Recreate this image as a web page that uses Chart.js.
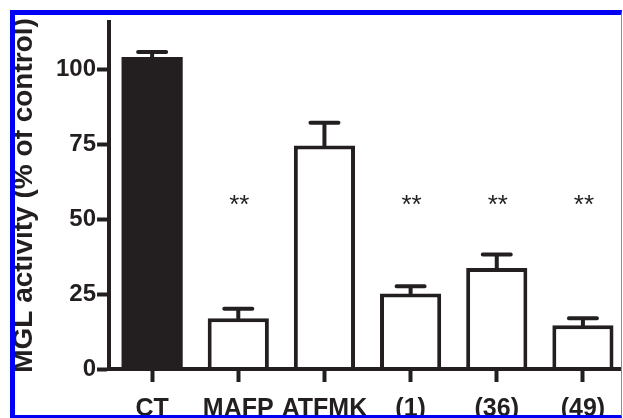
<!DOCTYPE html>
<html>
<head>
<meta charset="utf-8">
<script src="https://cdn.jsdelivr.net/npm/chart.js@4.4.0/dist/chart.umd.min.js"></script>
<style>
  html, body { margin: 0; padding: 0; background: #fff; }
  #wrap { position: absolute; left: 0; top: 0; width: 622px; height: 418px; overflow: hidden; }
  #chart { position: absolute; left: 0; top: 0; }
  #frame {
    position: absolute; left: 10px; top: 10px; width: 612px; height: 408px; box-sizing: border-box;
    border-top: 5px solid #0000f2; border-left: 5px solid #0000f2;
    border-right: 1px solid #7f7ff8; border-bottom: 3px solid #0000f2;
    pointer-events: none;
  }
</style>
</head>
<body>
<div id="wrap"><canvas id="chart" width="640" height="436"></canvas></div>
<div id="frame"></div>
<script>
// values
const categories = ['CT', 'MAFP', 'ATFMK', '(1)', '(36)', '(49)'];
const activity = [104.3, 17.0, 74.7, 25.2, 33.8, 14.6];
const sem = [1.7, 3.1, 7.6, 2.5, 4.5, 2.4];
const significance = ['', '**', '', '**', '**', '**'];
const yTicks = [0, 25, 50, 75, 100];

const ink = '#231f20';
const fills = categories.map((c, i) => i === 0 ? ink : '#ffffff');
const outlines = categories.map((c, i) => i === 0 ? 0 : 4);

// SEM caps + significance stars
const errorBars = {
  id: 'errorBars',
  afterDatasetsDraw(chart) {
    const ctx = chart.ctx;
    const y = chart.scales.y;
    const meta = chart.getDatasetMeta(0);
    ctx.save();
    ctx.strokeStyle = ink;
    ctx.lineWidth = 4;
    ctx.lineCap = 'round';
    meta.data.forEach((bar, i) => {
      const top = y.getPixelForValue(activity[i] + sem[i]);
      ctx.beginPath();
      ctx.moveTo(bar.x, bar.y);
      ctx.lineTo(bar.x, top);
      ctx.moveTo(bar.x - 14, top);
      ctx.lineTo(bar.x + 14, top);
      ctx.stroke();
    });
    ctx.fillStyle = ink;
    ctx.font = '26px "Liberation Sans"';
    ctx.textAlign = 'center';
    ctx.textBaseline = 'middle';
    meta.data.forEach((bar, i) => {
      if (significance[i]) ctx.fillText(significance[i], bar.x + 1, y.getPixelForValue(54.7));
    });
    ctx.restore();
  }
};

new Chart(document.getElementById('chart'), {
  type: 'bar',
  data: {
    labels: categories,
    datasets: [{
      data: activity,
      backgroundColor: fills,
      borderColor: ink,
      borderWidth: outlines,
      borderSkipped: 'start',
      barPercentage: 0.71,
      categoryPercentage: 1
    }]
  },
  options: {
    responsive: false,
    animation: false,
    layout: { padding: { left: 7.5, top: 22, right: 14, bottom: 0 } },
    plugins: { legend: { display: false }, tooltip: { enabled: false } },
    scales: {
      x: {
        grid: { drawOnChartArea: false, drawTicks: true, tickLength: 13, tickWidth: 4, tickColor: ink, offset: false },
        border: { display: true, color: ink, width: 4, z: 1 },
        ticks: {
          color: ink, padding: 12, maxRotation: 0, autoSkip: false,
          font: { family: 'Liberation Sans', size: 25, weight: 'bold' }
        }
      },
      y: {
        min: 0,
        max: 116,
        afterBuildTicks: (scale) => { scale.ticks = yTicks.map(v => ({ value: v })); },
        grid: { drawOnChartArea: false, drawTicks: true, tickLength: 12, tickWidth: 4, tickColor: ink },
        border: { display: true, color: ink, width: 4, z: 1 },
        ticks: {
          color: ink, padding: 1,
          font: { family: 'Liberation Sans', size: 24, weight: 'bold' }
        },
        title: {
          display: true,
          text: 'MGL activity (% of control)',
          color: ink,
          padding: { top: 0, bottom: 13.9 },
          font: { family: 'Liberation Sans', size: 28, weight: 'bold' }
        }
      }
    }
  },
  plugins: [errorBars]
});
</script>
</body>
</html>
